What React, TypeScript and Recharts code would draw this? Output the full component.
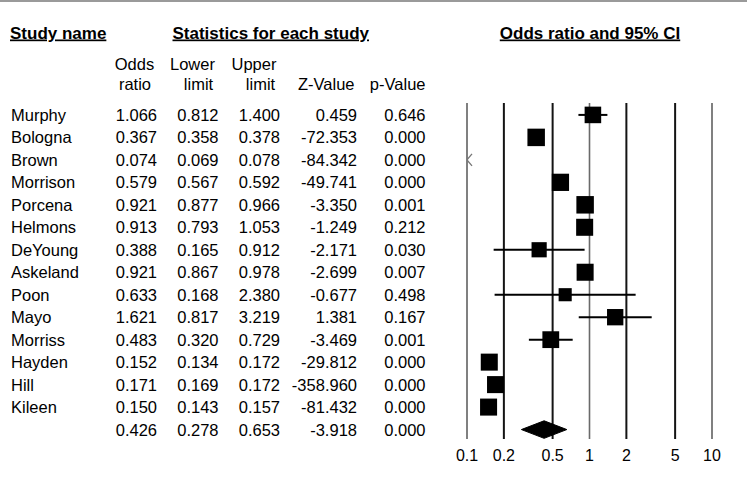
import React from 'react';
import { ScatterChart, Scatter, XAxis, YAxis, ReferenceLine, ErrorBar } from 'recharts';

const FONT = "'Liberation Sans', Arial, Helvetica, sans-serif";

// ---- data ----
const studies = ['Murphy', 'Bologna', 'Brown', 'Morrison', 'Porcena', 'Helmons', 'DeYoung', 'Askeland', 'Poon', 'Mayo', 'Morriss', 'Hayden', 'Hill', 'Kileen'];
const oddsRatio = [1.066, 0.367, 0.074, 0.579, 0.921, 0.913, 0.388, 0.921, 0.633, 1.621, 0.483, 0.152, 0.171, 0.150];
const lowerLimit = [0.812, 0.358, 0.069, 0.567, 0.877, 0.793, 0.165, 0.867, 0.168, 0.817, 0.320, 0.134, 0.169, 0.143];
const upperLimit = [1.400, 0.378, 0.078, 0.592, 0.966, 1.053, 0.912, 0.978, 2.380, 3.219, 0.729, 0.172, 0.172, 0.157];
const zValue = [0.459, -72.353, -84.342, -49.741, -3.350, -1.249, -2.171, -2.699, -0.677, 1.381, -3.469, -29.812, -358.960, -81.432];
const pValue = [0.646, 0.000, 0.000, 0.000, 0.001, 0.212, 0.030, 0.007, 0.498, 0.167, 0.001, 0.000, 0.000, 0.000];
// relative weights (%)
const weights = [7.2, 7.6, 7.6, 7.5, 7.6, 7.4, 6.6, 7.4, 5.7, 7.1, 7.3, 7.4, 7.4, 7.4];

const summaryOR = 0.426;
const summaryLower = 0.278;
const summaryUpper = 0.653;
const summaryZ = -3.918;
const summaryP = 0.000;

const xTicks = [0.1, 0.2, 0.5, 1, 2, 5, 10];

// ---- derived ----
const X_MIN = xTicks[0];
const X_MAX = xTicks[xTicks.length - 1];
const SUMMARY_ROW = studies.length;
const DIAMOND_HALF = 0.39;
const BOX_PX_PER_WEIGHT = 2.3;

const tableRows = [
  ...studies.map((name, i) => ({ name, or: oddsRatio[i], lo: lowerLimit[i], hi: upperLimit[i], z: zValue[i], p: pValue[i] })),
  { name: '', or: summaryOR, lo: summaryLower, hi: summaryUpper, z: summaryZ, p: summaryP },
];

const studyPoints = studies.map((name, i) => {
  const off = oddsRatio[i] < X_MIN;
  return {
    name,
    x: Math.max(oddsRatio[i], X_MIN),
    y: i,
    errX: off ? null : [oddsRatio[i] - lowerLimit[i], upperLimit[i] - oddsRatio[i]],
    w: weights[i],
    off,
  };
});

const diamondPoints = [
  { x: summaryLower, y: SUMMARY_ROW },
  { x: summaryOR, y: SUMMARY_ROW - DIAMOND_HALF },
  { x: summaryUpper, y: SUMMARY_ROW },
  { x: summaryOR, y: SUMMARY_ROW + DIAMOND_HALF },
];

const gridStyle: Record<number, { stroke: string; width: number }> = {
  0.1: { stroke: '#808080', width: 2 },
  0.2: { stroke: '#141414', width: 2 },
  0.5: { stroke: '#141414', width: 2 },
  1: { stroke: '#6a6a6a', width: 1.6 },
  2: { stroke: '#141414', width: 2 },
  5: { stroke: '#141414', width: 2 },
  10: { stroke: '#808080', width: 2 },
};

const COLS = { name: 11, or: 157, lo: 218.5, hi: 280, z: 357, p: 425.5 };

const RowTick = (props: any) => {
  const { y, payload } = props;
  const r = tableRows[payload.value];
  if (!r) return null;
  const by = y + 6;
  return (
    <g fontFamily={FONT} fontSize={16.5} fill="#000">
      <text x={COLS.name} y={by} textAnchor="start">{r.name}</text>
      <text x={COLS.or} y={by} textAnchor="end">{r.or.toFixed(3)}</text>
      <text x={COLS.lo} y={by} textAnchor="end">{r.lo.toFixed(3)}</text>
      <text x={COLS.hi} y={by} textAnchor="end">{r.hi.toFixed(3)}</text>
      <text x={COLS.z} y={by} textAnchor="end">{r.z.toFixed(3)}</text>
      <text x={COLS.p} y={by} textAnchor="end">{r.p.toFixed(3)}</text>
    </g>
  );
};

const BoxShape = (props: any) => {
  const { cx, cy, payload } = props;
  if (payload.off) {
    return (
      <polyline
        points={`${cx + 5},${cy - 6} ${cx},${cy} ${cx + 5},${cy + 6}`}
        fill="none"
        stroke="#777"
        strokeWidth={1.3}
      />
    );
  }
  const s = payload.w * BOX_PX_PER_WEIGHT;
  return <rect x={cx - s / 2} y={cy - s / 2} width={s} height={s} fill="#000" />;
};

const Empty = () => <g />;

const headerBold: React.CSSProperties = {
  fontFamily: FONT,
  fontWeight: 'bold',
  fontSize: 17,
  textDecoration: 'underline',
  textDecorationThickness: '1.5px',
  textUnderlineOffset: '3px',
} as any;

export default function App() {
  return (
    <div style={{ position: 'absolute', left: 0, top: 0, width: 747, height: 497, background: '#fff' }}>
      <ScatterChart width={747} height={497} margin={{ top: 103, right: 35, bottom: 0, left: 0 }}>
        <XAxis
          type="number"
          dataKey="x"
          scale="log"
          domain={[X_MIN, X_MAX]}
          ticks={xTicks}
          interval={0}
          allowDataOverflow
          axisLine={false}
          tickLine={false}
          tickMargin={5}
          height={58}
          tick={{ fill: '#000', fontSize: 16, fontFamily: FONT }}
        />
        <YAxis
          type="number"
          dataKey="y"
          reversed
          domain={[-0.53, 14.42]}
          allowDataOverflow
          ticks={tableRows.map((_, i) => i)}
          interval={0}
          axisLine={false}
          tickLine={false}
          width={467}
          tick={<RowTick />}
        />
        {xTicks.map((t) => (
          <ReferenceLine key={t} x={t} stroke={gridStyle[t].stroke} strokeWidth={gridStyle[t].width} />
        ))}
        <Scatter data={studyPoints} shape={<BoxShape />} isAnimationActive={false}>
          <ErrorBar dataKey="errX" direction="x" width={0} stroke="#000" strokeWidth={2} />
        </Scatter>
        <Scatter
          data={diamondPoints}
          shape={<Empty />}
          line={{ fill: '#000', stroke: '#000', strokeWidth: 1 }}
          lineJointType="linearClosed"
          isAnimationActive={false}
        />
      </ScatterChart>
      <svg
        width={747}
        height={497}
        style={{ position: 'absolute', left: 0, top: 0, pointerEvents: 'none' }}
      >
        <line x1={0} x2={747} y1={1} y2={1} stroke="#9a9a9a" strokeWidth={2} />
        <g fontFamily={FONT} fill="#000">
          <text x={10} y={38.5} style={headerBold}>Study name</text>
          <text x={172.5} y={38.5} style={headerBold}>Statistics for each study</text>
          <text x={590} y={38.5} textAnchor="middle" style={headerBold}>Odds ratio and 95% CI</text>
          <g fontSize={16.5}>
            <text x={134.5} y={69.5} textAnchor="middle">Odds</text>
            <text x={135} y={89.5} textAnchor="middle">ratio</text>
            <text x={192.5} y={69.5} textAnchor="middle">Lower</text>
            <text x={198.5} y={89.5} textAnchor="middle">limit</text>
            <text x={254} y={69.5} textAnchor="middle">Upper</text>
            <text x={260.5} y={89.5} textAnchor="middle">limit</text>
            <text x={354.5} y={89.5} textAnchor="end">Z-Value</text>
            <text x={425.5} y={89.5} textAnchor="end">p-Value</text>
          </g>
        </g>
      </svg>
    </div>
  );
}
